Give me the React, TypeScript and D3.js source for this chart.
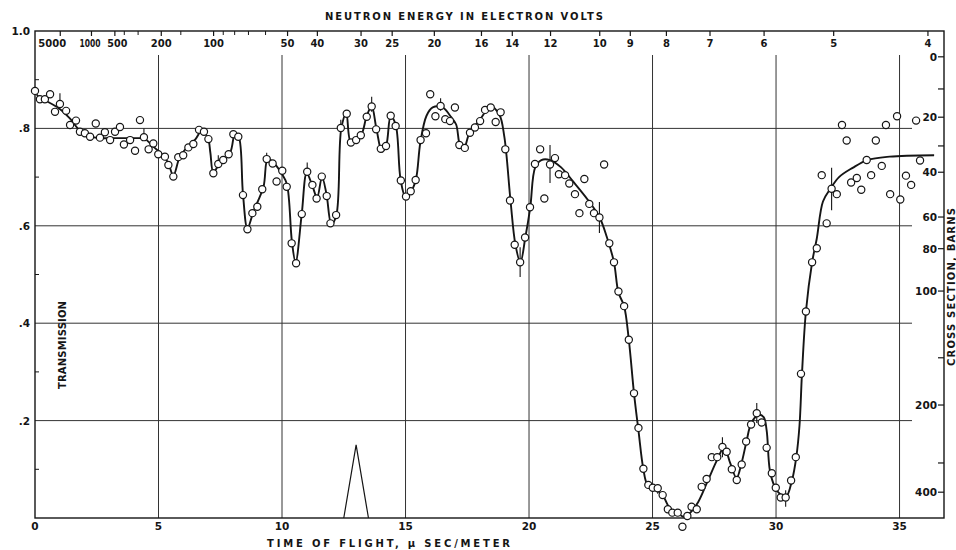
import React from "react";
import * as d3 from "d3";

const W = 956;
const H = 550;

// measured data: time of flight (µs/m) and transmission
const pointTime = [
  0.0, 0.2, 0.4, 0.61, 0.81, 1.01, 1.26, 1.42, 1.66, 1.82, 2.02, 2.23, 2.46, 2.63, 2.83, 3.04, 3.24, 3.44, 3.6, 3.85,
  4.05, 4.25, 4.41, 4.6, 4.79, 4.99, 5.26, 5.4, 5.6, 5.8, 6.0, 6.21, 6.41, 6.64, 6.84, 7.02, 7.22, 7.42, 7.62, 7.84,
  8.03, 8.23, 8.42, 8.6, 8.8, 9.0, 9.2, 9.38, 9.62, 9.78, 10.01, 10.19, 10.39, 10.57, 10.8, 11.02, 11.23, 11.4, 11.61, 11.81,
  11.96, 12.19, 12.38, 12.62, 12.79, 13.0, 13.19, 13.43, 13.63, 13.81, 14.0, 14.21, 14.4, 14.6, 14.81, 15.02, 15.21, 15.41, 15.61, 15.83,
  16.0, 16.21, 16.42, 16.61, 16.8, 17.0, 17.18, 17.4, 17.61, 17.81, 18.02, 18.22, 18.45, 18.65, 18.85, 19.04, 19.23, 19.42, 19.64, 19.84,
  20.04, 20.24, 20.45, 20.62, 20.85, 21.05, 21.21, 21.46, 21.63, 21.86, 22.04, 22.24, 22.44, 22.63, 22.85, 23.04, 23.25, 23.44, 23.62, 23.85,
  24.04, 24.25, 24.43, 24.63, 24.83, 25.01, 25.21, 25.41, 25.62, 25.8, 26.02, 26.21, 26.41, 26.58, 26.79, 26.99, 27.19, 27.4, 27.62, 27.83,
  28.0, 28.21, 28.41, 28.61, 28.79, 28.99, 29.22, 29.42, 29.62, 29.83, 29.99, 30.19, 30.39, 30.61, 30.8, 31.01, 31.21, 31.46, 31.65, 31.85,
  32.05, 32.25, 32.46, 32.67, 32.86, 33.04, 33.27, 33.45, 33.67, 33.85, 34.04, 34.28, 34.45, 34.62, 34.9, 35.03, 35.26, 35.47, 35.67, 35.83,
];
const pointTrans = [
  0.877, 0.86, 0.86, 0.87, 0.834, 0.85, 0.836, 0.807, 0.816, 0.793, 0.79, 0.783, 0.81, 0.781, 0.792, 0.776, 0.793, 0.803, 0.767, 0.776,
  0.754, 0.817, 0.782, 0.757, 0.769, 0.747, 0.742, 0.725, 0.701, 0.741, 0.745, 0.761, 0.768, 0.797, 0.793, 0.778, 0.708, 0.727, 0.735, 0.747,
  0.788, 0.783, 0.663, 0.593, 0.626, 0.639, 0.675, 0.737, 0.728, 0.691, 0.713, 0.68, 0.564, 0.523, 0.624, 0.711, 0.684, 0.656, 0.701, 0.661,
  0.605, 0.622, 0.801, 0.83, 0.771, 0.776, 0.786, 0.824, 0.845, 0.798, 0.758, 0.764, 0.826, 0.805, 0.693, 0.66, 0.671, 0.694, 0.776, 0.79,
  0.87, 0.825, 0.846, 0.819, 0.815, 0.843, 0.766, 0.76, 0.791, 0.802, 0.815, 0.838, 0.843, 0.813, 0.833, 0.757, 0.652, 0.561, 0.525, 0.576,
  0.638, 0.727, 0.757, 0.656, 0.726, 0.739, 0.706, 0.704, 0.687, 0.665, 0.626, 0.696, 0.645, 0.626, 0.617, 0.726, 0.564, 0.525, 0.465, 0.435,
  0.366, 0.256, 0.185, 0.101, 0.068, 0.062, 0.061, 0.047, 0.018, 0.011, 0.011, -0.018, 0.004, 0.023, 0.018, 0.064, 0.08, 0.125, 0.125, 0.146,
  0.136, 0.1, 0.078, 0.11, 0.157, 0.192, 0.215, 0.196, 0.144, 0.092, 0.062, 0.042, 0.042, 0.077, 0.125, 0.296, 0.424, 0.525, 0.554, 0.704,
  0.605, 0.676, 0.665, 0.807, 0.775, 0.689, 0.698, 0.674, 0.735, 0.704, 0.775, 0.723, 0.807, 0.665, 0.825, 0.654, 0.703, 0.684, 0.816, 0.734,
];

// hand-drawn fitted curve
const curveTime = [
  0.0, 0.2, 0.5, 1.0, 1.42, 1.82, 2.23, 2.63, 3.04, 3.44, 4.25, 4.41, 4.8, 5.2, 5.4, 5.6, 5.85, 6.1, 6.5, 6.75,
  7.0, 7.1, 7.22, 7.5, 7.9, 8.1, 8.25, 8.42, 8.6, 8.85, 9.25, 9.42, 9.65, 10.0, 10.2, 10.4, 10.55, 10.8, 11.0, 11.23,
  11.42, 11.62, 11.8, 12.0, 12.2, 12.4, 12.6, 12.8, 13.2, 13.43, 13.63, 13.82, 14.05, 14.22, 14.4, 14.6, 14.8, 15.0, 15.22, 15.42,
  15.6, 15.85, 16.1, 16.5, 16.85, 17.05, 17.2, 17.35, 17.6, 18.0, 18.45, 18.8, 19.0, 19.25, 19.45, 19.65, 19.85, 20.05, 20.25, 20.5,
  20.85, 21.3, 21.8, 22.4, 22.85, 23.15, 23.44, 23.62, 23.85, 24.04, 24.25, 24.43, 24.63, 24.8, 25.15, 25.45, 25.7, 26.0, 26.3, 26.55,
  26.85, 27.2, 27.62, 27.9, 28.15, 28.4, 28.6, 28.8, 29.0, 29.3, 29.5, 29.62, 29.75, 29.95, 30.2, 30.4, 30.65, 30.82, 30.95, 31.05,
  31.21, 31.46, 31.65, 31.9, 32.2, 32.55, 33.1, 33.7, 34.6, 36.4,
];
const curveTrans = [
  0.875, 0.862, 0.855, 0.84, 0.82, 0.795, 0.783, 0.78, 0.78, 0.78, 0.78, 0.78, 0.762, 0.744, 0.728, 0.703, 0.74, 0.758, 0.778, 0.795,
  0.78, 0.75, 0.71, 0.73, 0.75, 0.79, 0.783, 0.665, 0.595, 0.63, 0.68, 0.737, 0.73, 0.706, 0.685, 0.568, 0.525, 0.625, 0.708, 0.682,
  0.658, 0.7, 0.665, 0.603, 0.622, 0.8, 0.83, 0.77, 0.786, 0.826, 0.845, 0.8, 0.752, 0.765, 0.825, 0.808, 0.695, 0.66, 0.67, 0.695,
  0.771, 0.826, 0.843, 0.843, 0.823, 0.808, 0.766, 0.757, 0.792, 0.817, 0.845, 0.828, 0.783, 0.652, 0.561, 0.525, 0.576, 0.638, 0.72, 0.735,
  0.735, 0.72, 0.69, 0.652, 0.618, 0.577, 0.525, 0.463, 0.435, 0.366, 0.256, 0.18, 0.1, 0.068, 0.059, 0.043, 0.02, 0.01, 0.002, 0.012,
  0.033, 0.072, 0.12, 0.145, 0.112, 0.082, 0.112, 0.156, 0.195, 0.212, 0.207, 0.18, 0.098, 0.064, 0.047, 0.043, 0.078, 0.125, 0.19, 0.296,
  0.424, 0.525, 0.574, 0.65, 0.676, 0.7, 0.719, 0.735, 0.742, 0.745,
];

// error bars
const errTime = [1.01, 4.41, 7.42, 9.38, 11.02, 12.38, 13.63, 16.42, 19.64, 20.85, 22.85, 25.21, 27.83, 29.22, 30.39, 32.25];
const errLow = [0.844, 0.778, 0.72, 0.733, 0.705, 0.8, 0.834, 0.836, 0.495, 0.688, 0.585, 0.05, 0.125, 0.195, 0.023, 0.632];
const errHigh = [0.872, 0.8, 0.745, 0.75, 0.73, 0.818, 0.865, 0.862, 0.556, 0.766, 0.649, 0.07, 0.166, 0.236, 0.057, 0.719];

// resolution triangle
const pulseTime = [12.5, 13.0, 13.5];
const pulseTrans = [0, 0.15, 0];

// axes
const timeTicks = [0, 5, 10, 15, 20, 25, 30, 35];
const transTicks = [0.2, 0.4, 0.6, 0.8, 1.0];
const transLabels = [".2", ".4", ".6", ".8", "1.0"];
const transMinor = [0.1, 0.3, 0.5, 0.7, 0.9];
const energyLabels = [5000, 1000, 500, 200, 100, 50, 40, 30, 25, 20, 16, 14, 12, 10, 9, 8, 7, 6, 5, 4];
const energyMinor = [400, 300, 150, 90, 80, 70, 60];
// cross-section scale (barns) and the transmission each tick sits at on the printed axis
const barnTicks = [0, 10, 20, 30, 40, 60, 80, 100, 150, 200, 300, 400];
const barnTrans = [0.947, 0.881, 0.823, 0.764, 0.71, 0.618, 0.553, 0.466, 0.329, 0.232, 0.113, 0.053];
const barnLabels = [0, 20, 40, 60, 80, 100, 200, 400];

const FONT = "'DejaVu Sans', sans-serif";
const INK = "#151515";

export default function App() {
  const x = d3.scaleLinear().domain([0, 36.8]).range([35, 944]);
  const y = d3.scaleLinear().domain([0, 1]).range([518, 31]);
  // energy (eV) -> time of flight (µs/m)
  const eToT = (e: number) => 72.3 / Math.sqrt(e);
  // cross section (barns) -> transmission
  const barnScale = d3.scaleLinear().domain(barnTicks).range(barnTrans);

  const curvePts: [number, number][] = curveTime.map((t, i) => [t, curveTrans[i]]);
  const line = d3
    .line<[number, number]>()
    .x((d) => x(d[0]))
    .y((d) => y(d[1]))
    .curve(d3.curveCatmullRom.alpha(0.5));

  const pulsePts: [number, number][] = pulseTime.map((t, i) => [t, pulseTrans[i]]);
  const pulseLine = d3
    .line<[number, number]>()
    .x((d) => x(d[0]))
    .y((d) => y(d[1]));

  const [x0, x1] = x.range();
  const [yb, yt] = y.range();

  const energyNudge = (e: number) => (e === 5000 ? -8 : e === 1000 ? -1.5 : e === 500 ? 2.5 : 0);
  const energyFit = (e: number) => (e === 1000 ? 21 : e === 500 ? 20 : undefined);

  return (
    <svg
      width={W}
      height={H}
      viewBox={`0 0 ${W} ${H}`}
      style={{ position: "absolute", left: 0, top: 0, background: "#fff" }}
      fontFamily={FONT}
      fontWeight="bold"
      fill={INK}
    >
      <rect x={0} y={0} width={W} height={H} fill="#fff" />

      {/* grid */}
      {transTicks
        .filter((v) => v < 1)
        .map((v) => (
          <line key={"hg" + v} x1={x0} x2={912} y1={y(v)} y2={y(v)} stroke="#333" strokeWidth={1} />
        ))}
      {timeTicks
        .filter((t) => t > 0)
        .map((t) => (
          <line key={"vg" + t} x1={x(t)} x2={x(t)} y1={55} y2={yb} stroke="#333" strokeWidth={1} />
        ))}

      {/* frame */}
      <rect x={x0} y={yt} width={x1 - x0} height={yb - yt} fill="none" stroke={INK} strokeWidth={1.4} />

      {/* left axis */}
      {transTicks.map((v, i) => (
        <text key={"yl" + v} x={30} y={y(v) + 4} fontSize={10.5} textAnchor="end">
          {transLabels[i]}
        </text>
      ))}
      {transMinor.map((v) => (
        <line key={"ym" + v} x1={x0} x2={x0 + 4} y1={y(v)} y2={y(v)} stroke={INK} strokeWidth={1} />
      ))}
      <text
        transform={`translate(66,345) rotate(-90)`}
        fontSize={10}
        textAnchor="middle"
        textLength={88}
        lengthAdjust="spacing"
      >
        TRANSMISSION
      </text>

      {/* bottom axis */}
      {timeTicks.map((t) => (
        <text key={"xl" + t} x={x(t)} y={530} fontSize={10.5} textAnchor="middle">
          {t}
        </text>
      ))}
      <text x={267} y={547} fontSize={10} textLength={243} lengthAdjust="spacing">
        TIME OF FLIGHT,  μ SEC/METER
      </text>

      {/* top axis: neutron energy */}
      {energyLabels.map((e) => (
        <g key={"el" + e}>
          <line x1={x(eToT(e))} x2={x(eToT(e))} y1={yt} y2={yt + 5} stroke={INK} strokeWidth={1.2} />
          <text
            x={x(eToT(e)) + energyNudge(e)}
            y={47}
            fontSize={10}
            textAnchor="middle"
            textLength={energyFit(e)}
            lengthAdjust={energyFit(e) ? "spacingAndGlyphs" : undefined}
          >
            {e}
          </text>
        </g>
      ))}
      {energyMinor.map((e) => (
        <line key={"em" + e} x1={x(eToT(e))} x2={x(eToT(e))} y1={yt} y2={yt + 4} stroke={INK} strokeWidth={1} />
      ))}
      <text x={325} y={20} fontSize={10} textLength={278} lengthAdjust="spacing">
        NEUTRON ENERGY IN ELECTRON VOLTS
      </text>

      {/* right axis: cross section */}
      {barnTicks.map((s) => (
        <line key={"bt" + s} x1={x1 - 6} x2={x1} y1={y(barnScale(s))} y2={y(barnScale(s))} stroke={INK} strokeWidth={1.2} />
      ))}
      {barnLabels.map((s) => (
        <text key={"bl" + s} x={x1 - 7} y={y(barnScale(s)) + 4} fontSize={10.5} textAnchor="end">
          {s}
        </text>
      ))}
      <text
        transform={`translate(955,287) rotate(-90)`}
        fontSize={10}
        textAnchor="middle"
        textLength={158}
        lengthAdjust="spacing"
      >
        CROSS SECTION, BARNS
      </text>

      {/* resolution triangle */}
      <path d={pulseLine(pulsePts) || ""} fill="none" stroke={INK} strokeWidth={1.2} />

      {/* fitted curve */}
      <path d={line(curvePts) || ""} fill="none" stroke={INK} strokeWidth={1.9} strokeLinejoin="round" />

      {/* error bars */}
      {errTime.map((t, i) => (
        <line key={"eb" + i} x1={x(t)} x2={x(t)} y1={y(errLow[i])} y2={y(errHigh[i])} stroke={INK} strokeWidth={1.1} />
      ))}

      {/* data points */}
      {pointTime.map((t, i) => (
        <circle key={"p" + i} cx={x(t)} cy={y(pointTrans[i])} r={3.6} fill="#fff" stroke={INK} strokeWidth={1.2} />
      ))}
    </svg>
  );
}
